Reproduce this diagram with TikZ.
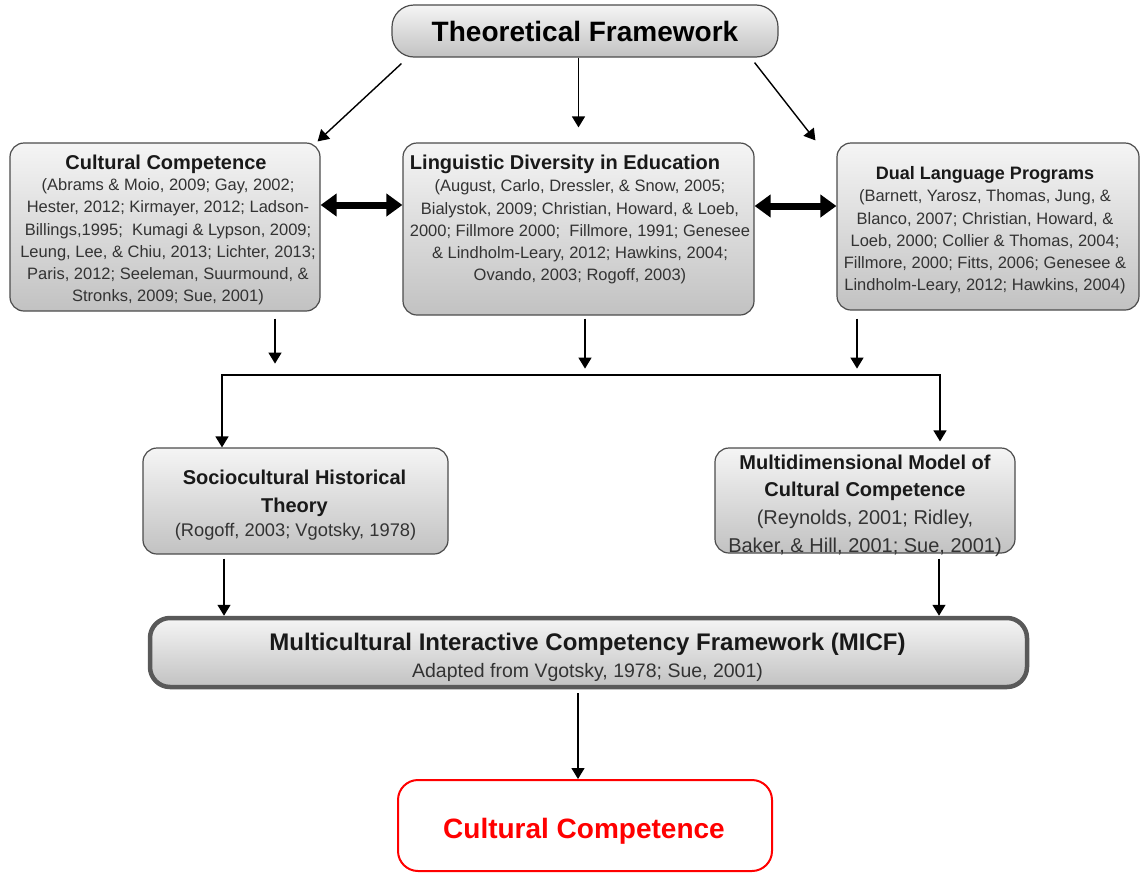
\documentclass[tikz,border=0pt]{standalone}
\usepackage{fontspec}
\setmainfont{Liberation Sans}
\usetikzlibrary{arrows.meta,calc}
\begin{document}
\begin{tikzpicture}[x=1pt,y=-1pt,
  box/.style={draw=black!70, line width=1.2pt, rounded corners=14pt, top color=black!4, bottom color=black!24, inner sep=0pt},
  arr/.style={line width=1.4pt, -{Triangle[width=13pt,length=11pt]}},
  dbl/.style={line width=7pt, {Triangle[width=22pt,length=16pt]}-{Triangle[width=22pt,length=16pt]}},
  ttl/.style={font=\fontsize{20}{22}\selectfont\bfseries, text=black!90, align=center, inner sep=0pt},
  ttlone/.style={ttl, text height=14.4pt, text depth=0pt},
  cit/.style={font=\fontsize{16.5}{22.2}\selectfont, text=black!80, align=center, inner sep=0pt}
]
\useasboundingbox (0,0) rectangle (1141,873);

% boxes
\node[box, rounded corners=22pt, minimum width=386pt, minimum height=52pt,
      font=\fontsize{28}{30}\selectfont\bfseries, text height=20.2pt, text depth=0pt] (tf) at (585,31) {Theoretical Framework};
\node[box, minimum width=310pt, minimum height=168pt] (cc) at (165,227) {};
\node[box, minimum width=351pt, minimum height=172pt] (ld) at (578.5,229) {};
\node[box, minimum width=302pt, minimum height=167pt] (dl) at (988,226.5) {};
\node[box, minimum width=305pt, minimum height=106pt] (sh) at (295.5,501) {};
\node[box, minimum width=300pt, minimum height=105pt] (mm) at (865,500.5) {};
\node[box, draw=black!65, line width=4.5pt, rounded corners=20pt, minimum width=877pt, minimum height=69pt] (micf) at (588.5,652.5) {};
\node[draw=red, line width=2pt, rounded corners=20pt, fill=white, minimum width=374pt, minimum height=91pt] (red) at (585,825.5) {};

% texts
\node[ttlone] (cctitle) at (166,162) {Cultural Competence};
\node[cit] (cccit) at (168,242) {(Abrams \& Moio, 2009; Gay, 2002;\\
Hester, 2012; Kirmayer, 2012; Ladson-\\
Billings,1995;\ \ Kumagi \& Lypson, 2009;\\
Leung, Lee, \& Chiu, 2013; Lichter, 2013;\\
Paris, 2012; Seeleman, Suurmound, \&\\
Stronks, 2009; Sue, 2001)};

\node[ttlone] (ldtitle) at (565,162) {Linguistic Diversity in Education};
\node[cit] (ldcit) at (580,232) {(August, Carlo, Dressler, \& Snow, 2005;\\
Bialystok, 2009; Christian, Howard, \& Loeb,\\
2000; Fillmore 2000;\ \ Fillmore, 1991; Genesee\\
\& Lindholm-Leary, 2012; Hawkins, 2004;\\
Ovando, 2003; Rogoff, 2003)};

\node[ttlone, font=\fontsize{18}{22}\selectfont\bfseries, text height=13pt] (dltitle) at (985,173) {Dual Language Programs};
\node[cit] (dlcit) at (985,242) {(Barnett, Yarosz, Thomas, Jung, \&\\
Blanco, 2007; Christian, Howard, \&\\
Loeb, 2000; Collier \& Thomas, 2004;\\
Fillmore, 2000; Fitts, 2006; Genesee \&\\
Lindholm-Leary, 2012; Hawkins, 2004)};

\node[ttl, font=\fontsize{20}{28}\selectfont\bfseries] (shtitle) at (294.5,493) {Sociocultural Historical\\Theory};
\node[cit, font=\fontsize{18.3}{22}\selectfont] (shcit) at (295.5,532) {(Rogoff, 2003; Vgotsky, 1978)};

\node[ttl, font=\fontsize{20}{27}\selectfont\bfseries] (mmtitle) at (865,477.5) {Multidimensional Model of\\Cultural Competence};
\node[cit, font=\fontsize{20}{28}\selectfont] (mmcit) at (865,533) {(Reynolds, 2001; Ridley,\\Baker, \& Hill, 2001; Sue, 2001)};

\node[ttl, font=\fontsize{24}{26}\selectfont\bfseries, text height=17.3pt, text depth=0pt] (micftitle) at (587.5,642) {Multicultural Interactive Competency Framework (MICF)};
\node[cit, font=\fontsize{19.5}{22}\selectfont, text height=14pt, text depth=0pt] (micfsub) at (587.5,670) {Adapted from Vgotsky, 1978; Sue, 2001)};

\node[font=\fontsize{28}{30}\selectfont\bfseries, text=red, inner sep=0pt, text height=20.2pt, text depth=0pt] (redtext) at (584,828) {Cultural Competence};

% connectors
\draw[arr] ($(tf.south west)+(10,6)$) -- ($(cc.north east)+(-3,-1)$);
\draw[arr] (tf.south -| ld.north) -- ($(ld.north)+(0,-15)$);
\draw[arr] ($(tf.south east)+(-24,5)$) -- ($(dl.north west)+(-21,-2)$);

\draw[dbl] ($(cc.east)+(0,-22)$) -- ($(ld.west)+(0,-24)$);
\draw[dbl] ($(ld.east)+(0,-23)$) -- ($(dl.west)+(0,-20.5)$);

\coordinate (busL) at (222,375);
\coordinate (busR) at (940,375);
\draw[arr] ($(cc.south)+(110,7)$) -- ($(cc.south)+(110,52)$);
\draw[arr] ($(ld.south)+(6.5,3)$) -- ($(ld.south)+(6.5,53)$);
\draw[arr] ($(dl.south)+(-131,8)$) -- ($(dl.south)+(-131,58)$);
\draw[arr] (busR) -- (busL) -- (busL |- sh.north);
\draw[arr] (busL) -- (busR) -- ($(busR |- mm.north)+(0,-6)$);

\coordinate (a1) at ($(sh.south)+(-71.5,4)$);
\draw[arr] (a1) -- (a1 |- micf.north);
\coordinate (a2) at ($(mm.south)+(74,5)$);
\draw[arr] (a2) -- (a2 |- micf.north);
\coordinate (a3) at ($(micf.south)+(-10.5,4)$);
\draw[arr] (a3) -- (a3 |- red.north);
\end{tikzpicture}
\end{document}
